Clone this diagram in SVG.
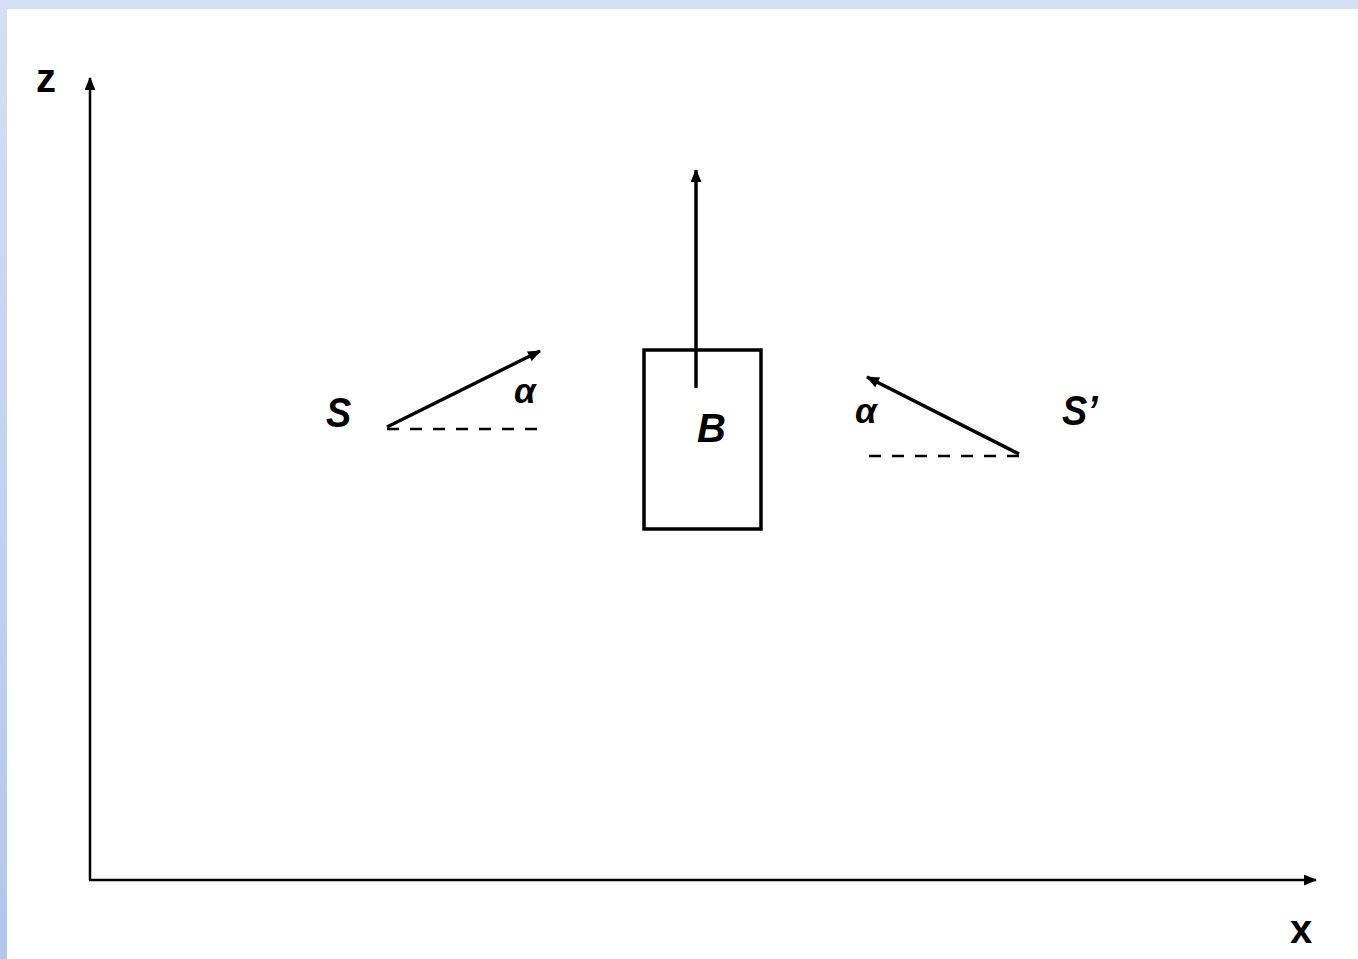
<svg xmlns="http://www.w3.org/2000/svg" width="1358" height="959" viewBox="0 0 1358 959">
<defs>
<linearGradient id="lg" x1="0" y1="0" x2="0" y2="1">
<stop offset="0" stop-color="#d4def5"/>
<stop offset="1" stop-color="#b2c6ee"/>
</linearGradient>
<marker id="ah" viewBox="0 0 12 10" refX="11" refY="5" markerWidth="13" markerHeight="11" markerUnits="userSpaceOnUse" orient="auto">
<path d="M0,0 L12,5 L0,10 Z" fill="#000"/>
</marker>
<style>
.ln{stroke:#000;stroke-width:3.5;fill:none}
.ax{stroke:#000;stroke-width:2.5;fill:none}
.ds{stroke:#000;stroke-width:2.5;stroke-dasharray:12 11;fill:none}
.lbl{font-family:"Liberation Sans",Arial,sans-serif;font-weight:bold;fill:#000}
.it{font-style:italic}
</style>
</defs>
<rect x="0" y="0" width="1358" height="959" fill="#ffffff"/>
<rect x="0" y="0" width="1358" height="9" fill="#d4def5"/>
<rect x="0" y="0" width="7" height="959" fill="url(#lg)"/>
<g id="axes">
<text class="lbl" x="36" y="92" font-size="40">z</text>
<text class="lbl" x="1290" y="943" font-size="40">x</text>
</g>
<g id="S">
<text class="lbl it" x="326" y="427" font-size="42" transform="translate(326 0) scale(0.9 1) translate(-326 0)">S</text>
<text class="lbl it" x="514" y="403" font-size="35">α</text>
</g>
<g id="B">
<rect x="644" y="350" width="117" height="179" class="ln"/>
<text class="lbl it" x="697" y="442" font-size="40">B</text>
</g>
<g id="Sprime">
<text class="lbl it" x="855" y="423" font-size="35">α</text>
<text class="lbl it" x="1062" y="425" font-size="42" transform="translate(1062 0) scale(0.9 1) translate(-1062 0)">S’</text>
</g>
<g id="connectors">
<line x1="90" y1="880" x2="90" y2="78" class="ax" marker-end="url(#ah)"/>
<line x1="89" y1="880" x2="1316" y2="880" class="ax" marker-end="url(#ah)"/>
<line x1="387" y1="427" x2="540" y2="351" class="ln" marker-end="url(#ah)"/>
<line x1="387" y1="429" x2="543" y2="429" class="ds"/>
<line x1="696" y1="388" x2="696" y2="170" class="ln" marker-end="url(#ah)"/>
<line x1="1019" y1="454" x2="867" y2="377" class="ln" marker-end="url(#ah)"/>
<line x1="1019" y1="456" x2="862" y2="456" class="ds"/>
</g>
</svg>
